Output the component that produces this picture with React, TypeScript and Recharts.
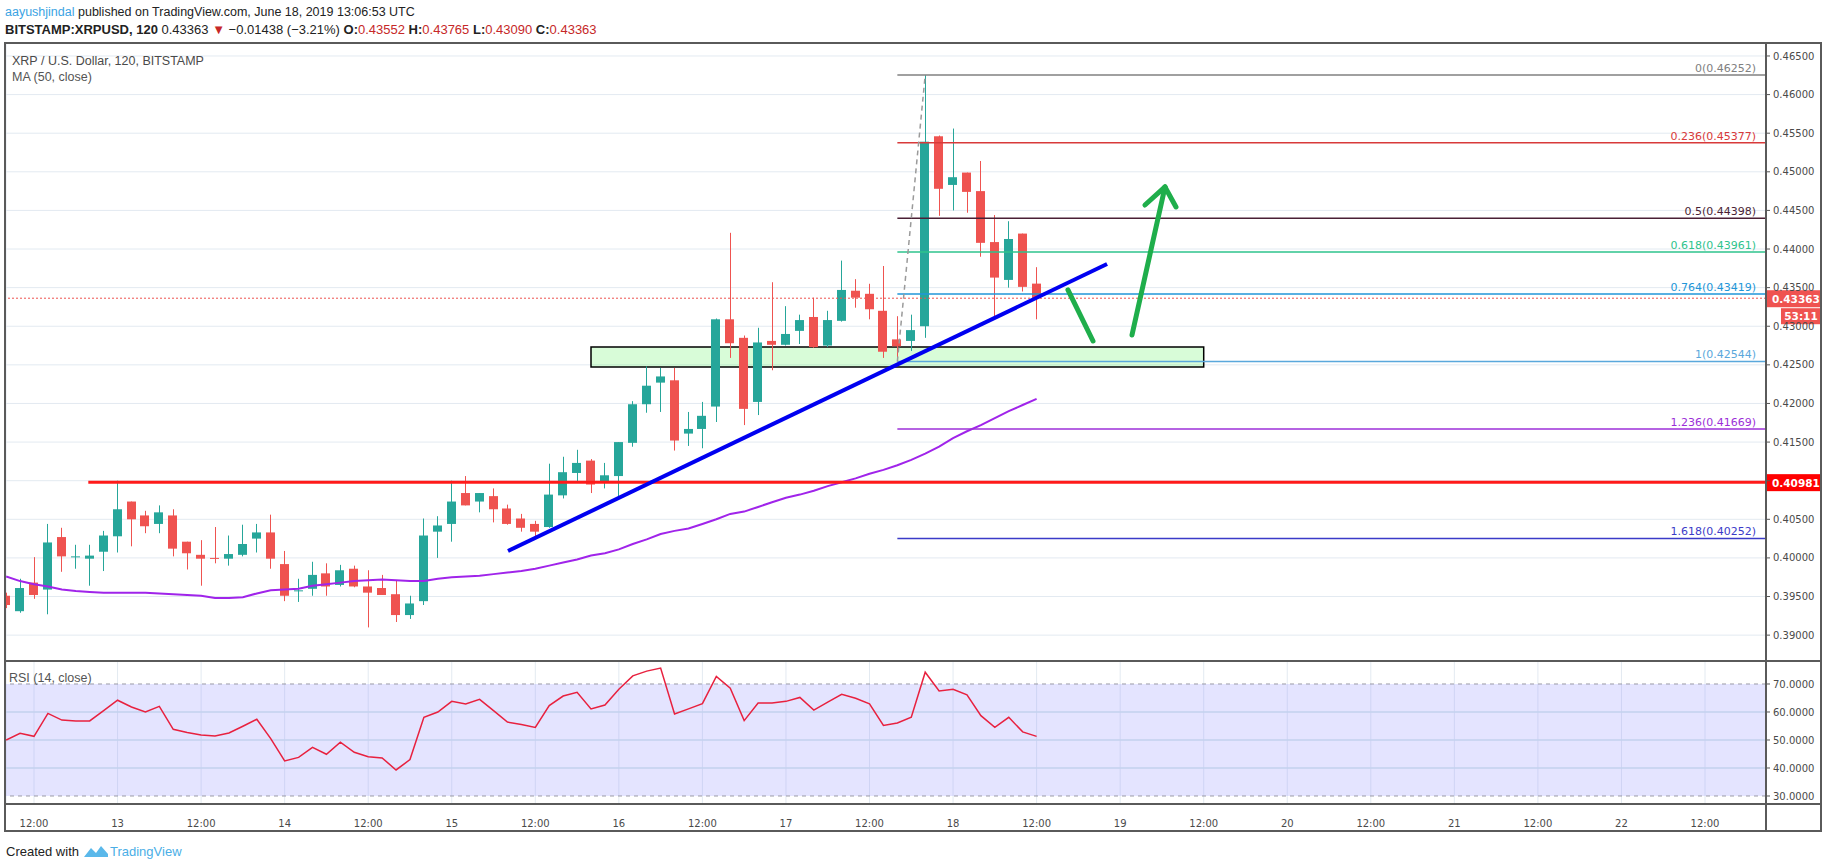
import React from "react";
import {
  ComposedChart,
  Bar,
  Line,
  XAxis,
  YAxis,
  CartesianGrid,
  ReferenceLine,
  ReferenceArea,
} from "recharts";

// 2h candles, 12 Jun 08:00 -> 18 Jun 12:00 (index 0..74)
const OPEN = [
  0.3951, 0.3931, 0.3968, 0.3959, 0.4027, 0.4001, 0.3999, 0.4008, 0.4028, 0.4073,
  0.4055, 0.4044, 0.4055, 0.4021, 0.4004, 0.4, 0.3999, 0.4004, 0.4025, 0.4033,
  0.3992, 0.3957, 0.396, 0.398, 0.3965, 0.3986, 0.3963, 0.3961, 0.3953, 0.3926,
  0.3944, 0.4034, 0.4044, 0.4084, 0.4073, 0.408, 0.4064, 0.4051, 0.4044, 0.404,
  0.4081, 0.411, 0.4126, 0.4097, 0.4106, 0.4149, 0.4199, 0.4227, 0.423, 0.4161,
  0.4167, 0.4196, 0.4309, 0.4285, 0.4202, 0.4281, 0.4276, 0.4294, 0.4312, 0.4275,
  0.4307, 0.4346, 0.4342, 0.432, 0.4283, 0.4281, 0.43, 0.4546, 0.4483, 0.4499,
  0.4475, 0.4409, 0.436, 0.442, 0.43552,
];
const HIGH = [
  0.3955, 0.3973, 0.4001, 0.4044, 0.4039, 0.4017, 0.4017, 0.4035, 0.41, 0.4073,
  0.4061, 0.4068, 0.4063, 0.4021, 0.4023, 0.404, 0.4029, 0.4043, 0.4044, 0.4056,
  0.4009, 0.3973, 0.3995, 0.3993, 0.3991, 0.399, 0.3984, 0.3978, 0.3971, 0.3951,
  0.4051, 0.4054, 0.41, 0.4106, 0.4084, 0.409, 0.4069, 0.4057, 0.4048, 0.4122,
  0.4131, 0.414, 0.4128, 0.4123, 0.415, 0.4203, 0.4248, 0.4246, 0.4246, 0.4189,
  0.4202, 0.431, 0.4421, 0.4288, 0.4298, 0.4357, 0.4326, 0.4315, 0.4337, 0.432,
  0.4385, 0.4361, 0.4355, 0.4378, 0.4313, 0.4315, 0.46252, 0.4547, 0.4556, 0.4499,
  0.4514, 0.4444, 0.4436, 0.442, 0.43765,
];
const LOW = [
  0.3935, 0.3929, 0.3947, 0.3927, 0.3982, 0.3986, 0.3964, 0.3983, 0.4007, 0.4015,
  0.4032, 0.4032, 0.4002, 0.3985, 0.3964, 0.3993, 0.399, 0.4002, 0.4007, 0.3986,
  0.3944, 0.3943, 0.3951, 0.3951, 0.3963, 0.3962, 0.391, 0.3952, 0.3917, 0.3921,
  0.3939, 0.4, 0.4021, 0.4068, 0.4059, 0.4046, 0.4043, 0.4034, 0.4027, 0.4039,
  0.4077, 0.4097, 0.4084, 0.409, 0.4079, 0.4144, 0.4188, 0.4189, 0.4139, 0.4145,
  0.4142, 0.4176, 0.4259, 0.4172, 0.4185, 0.4243, 0.4275, 0.4277, 0.4272, 0.4273,
  0.4306, 0.4324, 0.4309, 0.4259, 0.42544, 0.4268, 0.4285, 0.4443, 0.445, 0.4447,
  0.439, 0.4312, 0.435, 0.4345, 0.4309,
];
const CLOSE = [
  0.3939, 0.3961, 0.3952, 0.402, 0.4002, 0.4002, 0.4003, 0.4029, 0.4063, 0.405,
  0.4041, 0.4059, 0.4012, 0.4006, 0.3999, 0.3999, 0.4005, 0.4018, 0.4033, 0.3999,
  0.3951, 0.3958, 0.3978, 0.3963, 0.3984, 0.3963, 0.3955, 0.3952, 0.3926, 0.3941,
  0.4029, 0.4042, 0.4073, 0.4068, 0.4084, 0.4063, 0.4044, 0.4039, 0.4034, 0.4082,
  0.4111, 0.4123, 0.4095, 0.4107, 0.415, 0.4199, 0.4223, 0.4235, 0.4152, 0.4167,
  0.4184, 0.4309, 0.4278, 0.4193, 0.4279, 0.4276, 0.429, 0.4308, 0.4273, 0.4308,
  0.4347, 0.4337, 0.4322, 0.4267, 0.4274, 0.4295, 0.4539, 0.4478, 0.4493, 0.4474,
  0.4408, 0.4363, 0.4413, 0.4351, 0.43363,
];
const MA50 = [
  0.3976, 0.397, 0.3966, 0.3963, 0.3959, 0.3957, 0.3956, 0.3955, 0.3955, 0.3955,
  0.3955, 0.3954, 0.3953, 0.3952, 0.3951, 0.3948, 0.3948, 0.3949, 0.3954, 0.3958,
  0.3959, 0.396, 0.3964, 0.3966, 0.3968, 0.397, 0.3971, 0.3972, 0.3971, 0.397,
  0.397, 0.3973, 0.3975, 0.3976, 0.3977, 0.3979, 0.3981, 0.3983, 0.3986, 0.399,
  0.3994, 0.3998, 0.4003, 0.4006, 0.4011, 0.4018, 0.4024, 0.4031, 0.4035, 0.4038,
  0.4044, 0.405, 0.4057, 0.406, 0.4066, 0.4072, 0.4078, 0.4082, 0.4087, 0.4093,
  0.4098, 0.4103, 0.4109, 0.4114, 0.412, 0.4127, 0.4135, 0.4144, 0.4155, 0.4164,
  0.4172, 0.4181, 0.419, 0.4198, 0.4206,
];
const RSI14 = [
  50.0, 52.4, 51.3, 59.5, 57.1, 56.8, 56.8, 60.5, 64.2, 61.8,
  60.0, 62.0, 53.8, 52.7, 51.8, 51.4, 52.5, 54.9, 57.4, 50.5,
  42.5, 43.8, 47.4, 44.9, 49.2, 45.6, 44.0, 43.6, 39.3, 43.0,
  58.1, 60.0, 63.8, 62.9, 64.5, 60.5, 56.4, 55.5, 54.5, 62.3,
  65.7, 67.0, 61.1, 62.5, 68.1, 72.9, 74.6, 75.7, 59.3, 61.1,
  63.0, 72.7, 68.5, 56.9, 63.2, 63.2, 63.8, 65.2, 60.7, 63.5,
  66.3, 64.9, 62.9, 55.2, 56.1, 58.1, 74.2, 67.5, 68.1, 66.1,
  58.7, 54.5, 58.1, 52.9, 51.3,
];

// every 12h starting at 12 Jun 12:00 (bar index 2, then +6 bars)
const TIME_LABELS = [
  "12:00", "13", "12:00", "14", "12:00", "15", "12:00", "16", "12:00", "17", "12:00",
  "18", "12:00", "19", "12:00", "20", "12:00", "21", "12:00", "22", "12:00",
];
const PRICE_TICKS = [
  0.39, 0.395, 0.4, 0.405, 0.41, 0.415, 0.42, 0.425, 0.43, 0.435, 0.44, 0.445, 0.45,
  0.455, 0.46, 0.465,
];
const RSI_TICKS = [30, 40, 50, 60, 70];

// fibonacci drawing (anchored low bar 64 -> high bar 66)
const FIB_RATIOS = ["0", "0.236", "0.5", "0.618", "0.764", "1", "1.236", "1.618"];
const FIB_PRICES = [0.46252, 0.45377, 0.44398, 0.43961, 0.43419, 0.42544, 0.41669, 0.40252];
const FIB_COLORS = ["#808080", "#d83a3a", "#4a1f35", "#2ec38c", "#2196d8", "#5aa8dc", "#9c2fd8", "#3b3bc8"];
const FIB_START = 64;

const LAST_PRICE = 0.43363;
const SUPPORT = 0.40981;
const SUPPORT_START = 5.9;
const ZONE = { x1: 42, x2: 86, y1: 0.42473, y2: 0.42732 };
const TREND = [
  { x: 36.04, y: 0.4009 },
  { x: 79.06, y: 0.43806 },
];
const ARROWS = [
  [{ x: 76.25, y: 0.4347 }, { x: 78.05, y: 0.42809 }],
  [{ x: 80.85, y: 0.42887 }, { x: 83.22, y: 0.44804 }],
  [{ x: 81.78, y: 0.4457 }, { x: 83.22, y: 0.44804 }],
  [{ x: 84.01, y: 0.44545 }, { x: 83.22, y: 0.44804 }],
];

const X_MIN = -0.011;
const X_MAX = 126.38;
const Y_MIN = 0.38665;
const Y_MAX = 0.46668;
const RSI_MIN = 27.14;
const RSI_MAX = 78.21;

const UP = "#26a69a";
const DOWN = "#ef5350";
const AXIS_FONT = "'DejaVu Sans', Verdana, sans-serif";
const TEXT_FONT = "'Liberation Sans', Arial, sans-serif";
const FRAME = "#5a5a5a";

const CHART_LEFT = 6;
const CHART_W = 1815;
const AXIS_W = 55;

const gridIdx = TIME_LABELS.map((_, k) => 2 + 6 * k);

const rows = OPEN.map((o, i) => ({
  i,
  o,
  h: HIGH[i],
  l: LOW[i],
  c: CLOSE[i],
  range: [LOW[i], HIGH[i]],
  ma: MA50[i],
  rsi: RSI14[i],
}));

function Candle(props: any) {
  const { x, y, width, height, payload } = props;
  if (!payload || x == null) return null;
  const top = Math.min(y, y + height);
  const span = Math.abs(height);
  const { o, h, l, c } = payload;
  const toY = (v: number) => (h === l ? top : top + ((h - v) / (h - l)) * span);
  const color = c >= o ? UP : DOWN;
  const bTop = toY(Math.max(o, c));
  const bBot = toY(Math.min(o, c));
  const cx = Math.round(x + width / 2) + 0.5;
  return (
    <g>
      <line x1={cx} x2={cx} y1={top} y2={top + span} stroke={color} strokeWidth={1} />
      <rect x={Math.round(x)} y={bTop} width={width} height={Math.max(1, bBot - bTop)} fill={color} />
    </g>
  );
}

function FibLabel(props: any) {
  const { viewBox, text, color } = props;
  if (!viewBox) return null;
  return (
    <text
      x={viewBox.x + viewBox.width - 10}
      y={viewBox.y - 3}
      textAnchor="end"
      fill={color}
      fontSize={11}
      fontFamily={AXIS_FONT}
    >
      {text}
    </text>
  );
}

function PriceTag(props: any) {
  const { viewBox, text, fill, sub } = props;
  if (!viewBox) return null;
  const x = viewBox.x + viewBox.width;
  const y = viewBox.y;
  return (
    <g>
      <rect x={x} y={y - 8} width={AXIS_W} height={17} fill={fill} />
      <text x={x + 6} y={y + 4.5} fill="#fff" fontSize={10.5} fontWeight="bold" fontFamily={AXIS_FONT}>
        {text}
      </text>
      {sub ? (
        <g>
          <rect x={x + 15} y={y + 10} width={AXIS_W - 15} height={16} fill={fill} />
          <text x={x + 35} y={y + 22} textAnchor="middle" fill="#fff" fontSize={10.5} fontWeight="bold" fontFamily={AXIS_FONT}>
            {sub}
          </text>
        </g>
      ) : null}
    </g>
  );
}

const axisTick = { fontSize: 10, fontFamily: AXIS_FONT, fill: "#4a4a4a" };

// price labels; the one sitting under the support tag is covered in the original
function PriceTick(props: any) {
  const { x, y, payload } = props;
  const v = payload.value as number;
  if (Math.abs(v - SUPPORT) < 0.0008) return null;
  return (
    <text x={x} y={y} dy="0.355em" textAnchor="start" {...axisTick}>
      {v.toFixed(5)}
    </text>
  );
}

function MainPane() {
  return (
    <ComposedChart
      width={CHART_W}
      height={618}
      data={rows}
      margin={{ top: 0, right: 0, bottom: 0, left: 0 }}
      style={{ position: "absolute", left: CHART_LEFT, top: 43 }}
    >
      <CartesianGrid stroke="#e3eaf1" />
      <XAxis
        dataKey="i"
        type="number"
        domain={[X_MIN, X_MAX]}
        allowDataOverflow
        ticks={gridIdx}
        interval={0}
        height={0}
        tick={false}
        tickLine={false}
        axisLine={false}
      />
      <YAxis
        orientation="right"
        type="number"
        domain={[Y_MIN, Y_MAX]}
        allowDataOverflow
        ticks={PRICE_TICKS}
        interval={0}
        width={AXIS_W}
        tick={<PriceTick />}
        tickSize={4}
        tickMargin={3}
        tickLine={{ stroke: "#555" }}
        axisLine={false}
      />
      <Bar dataKey="range" barSize={9} shape={<Candle />} isAnimationActive={false} />
      <Line dataKey="ma" stroke="#a024ea" strokeWidth={2} dot={false} activeDot={false} isAnimationActive={false} />
      <ReferenceArea
        x1={ZONE.x1}
        x2={ZONE.x2}
        y1={ZONE.y1}
        y2={ZONE.y2}
        fill="#4cf04c"
        fillOpacity={0.22}
        stroke="#000"
        strokeWidth={1.5}
      />
      {FIB_PRICES.map((p, k) => (
        <ReferenceLine
          key={FIB_RATIOS[k]}
          segment={[
            { x: FIB_START, y: p },
            { x: X_MAX, y: p },
          ]}
          stroke={FIB_COLORS[k]}
          strokeWidth={1.5}
          ifOverflow="visible"
          label={<FibLabel text={`${FIB_RATIOS[k]}(${p.toFixed(5)})`} color={FIB_COLORS[k]} />}
        />
      ))}
      <ReferenceLine
        segment={[
          { x: FIB_START, y: FIB_PRICES[5] },
          { x: FIB_START + 2, y: FIB_PRICES[0] },
        ]}
        stroke="#9a9a9a"
        strokeWidth={1.5}
        strokeDasharray="5 4"
        ifOverflow="visible"
      />
      <ReferenceLine
        y={LAST_PRICE}
        stroke="#ef5350"
        strokeDasharray="2 2"
        strokeWidth={1}
        ifOverflow="visible"
        label={<PriceTag text={LAST_PRICE.toFixed(5)} fill="#ef5350" sub="53:11" />}
      />
      <ReferenceLine
        segment={[
          { x: SUPPORT_START, y: SUPPORT },
          { x: X_MAX, y: SUPPORT },
        ]}
        stroke="#ff1a1a"
        strokeWidth={3}
        ifOverflow="visible"
        label={<PriceTag text={SUPPORT.toFixed(5)} fill="#ff0000" />}
      />
      <ReferenceLine segment={TREND} stroke="#0000f0" strokeWidth={4} ifOverflow="visible" />
      {ARROWS.map((seg, k) => (
        <ReferenceLine
          key={`arrow-${k}`}
          segment={seg}
          stroke="#1fae4b"
          strokeWidth={5}
          strokeLinecap="round"
          ifOverflow="visible"
        />
      ))}
    </ComposedChart>
  );
}

function RsiPane() {
  return (
    <ComposedChart
      width={CHART_W}
      height={170}
      data={rows}
      margin={{ top: 0, right: 0, bottom: 0, left: 0 }}
      style={{ position: "absolute", left: CHART_LEFT, top: 661 }}
    >
      <ReferenceArea x1={X_MIN} x2={X_MAX} y1={30} y2={70} fill="#9595ff" fillOpacity={0.26} stroke="none" />
      <CartesianGrid stroke="#e3eaf1" horizontal={false} />
      <XAxis
        dataKey="i"
        type="number"
        domain={[X_MIN, X_MAX]}
        allowDataOverflow
        ticks={gridIdx}
        interval={0}
        height={27}
        tickFormatter={(v: number) => TIME_LABELS[Math.round((v - 2) / 6)]}
        tick={axisTick}
        tickLine={false}
        axisLine={false}
        tickMargin={10}
      />
      <YAxis
        orientation="right"
        type="number"
        domain={[RSI_MIN, RSI_MAX]}
        allowDataOverflow
        ticks={RSI_TICKS}
        interval={0}
        width={AXIS_W}
        tickFormatter={(v: number) => v.toFixed(4)}
        tick={axisTick}
        tickSize={4}
        tickMargin={3}
        tickLine={{ stroke: "#555" }}
        axisLine={false}
      />
      {[40, 50, 60].map((v) => (
        <ReferenceLine key={v} y={v} stroke="#c3d2ee" strokeWidth={1.5} />
      ))}
      <ReferenceLine y={70} stroke="#9a9aa6" strokeDasharray="4 4" />
      <ReferenceLine y={30} stroke="#9a9aa6" strokeDasharray="4 4" />
      <Line dataKey="rsi" stroke="#e8213f" strokeWidth={1.5} dot={false} activeDot={false} isAnimationActive={false} />
    </ComposedChart>
  );
}

function Header() {
  const red = "#c62828";
  return (
    <div style={{ position: "absolute", left: 5, top: 4, fontFamily: TEXT_FONT, color: "#222", whiteSpace: "nowrap" }}>
      <div style={{ lineHeight: "17px", fontSize: 12.5 }}>
        <span style={{ color: "#3ba3e3" }}>aayushjindal</span> published on TradingView.com, June 18, 2019 13:06:53 UTC
      </div>
      <div style={{ lineHeight: "17px", fontSize: 13 }}>
        <b>BITSTAMP:XRPUSD, 120</b> 0.43363 <span style={{ color: red }}>▼</span> −0.01438 (−3.21%) <b>O:</b>
        <span style={{ color: red }}>0.43552</span> <b>H:</b>
        <span style={{ color: red }}>0.43765</span> <b>L:</b>
        <span style={{ color: red }}>0.43090</span> <b>C:</b>
        <span style={{ color: red }}>0.43363</span>
      </div>
    </div>
  );
}

export default function App() {
  const line = (s: React.CSSProperties) => (
    <div style={{ position: "absolute", background: FRAME, ...s }} />
  );
  return (
    <div style={{ position: "absolute", left: 0, top: 0, width: 1828, height: 868, background: "#fff", overflow: "hidden" }}>
      <Header />
      <MainPane />
      <RsiPane />
      <div style={{ position: "absolute", left: 12, top: 53, fontFamily: TEXT_FONT, fontSize: 12.5, color: "#4a4a4a", lineHeight: "16px" }}>
        <div>XRP / U.S. Dollar, 120, BITSTAMP</div>
        <div style={{ color: "#555" }}>MA (50, close)</div>
      </div>
      <div style={{ position: "absolute", left: 9, top: 670, fontFamily: TEXT_FONT, fontSize: 12.5, color: "#555", lineHeight: "16px" }}>
        RSI (14, close)
      </div>
      {line({ left: 4, top: 42, width: 1818, height: 2 })}
      {line({ left: 4, top: 830, width: 1818, height: 2 })}
      {line({ left: 4, top: 42, width: 2, height: 790 })}
      {line({ left: 1820, top: 42, width: 2, height: 790 })}
      {line({ left: 1765, top: 42, width: 2, height: 790 })}
      {line({ left: 4, top: 660, width: 1818, height: 2 })}
      {line({ left: 4, top: 803, width: 1818, height: 2 })}
      <div style={{ position: "absolute", left: 6, top: 843, display: "flex", alignItems: "center", fontFamily: TEXT_FONT, fontSize: 13, color: "#222" }}>
        <span>Created with</span>
        <svg width="26" height="16" viewBox="0 0 26 16" style={{ margin: "0 1px 0 4px" }}>
          <path d="M1 14 L8 5 L13 10 L18 3 L25 11 L25 14 Z" fill="#5ab8ea" />
        </svg>
        <span style={{ color: "#4aaee6" }}>TradingView</span>
      </div>
    </div>
  );
}
